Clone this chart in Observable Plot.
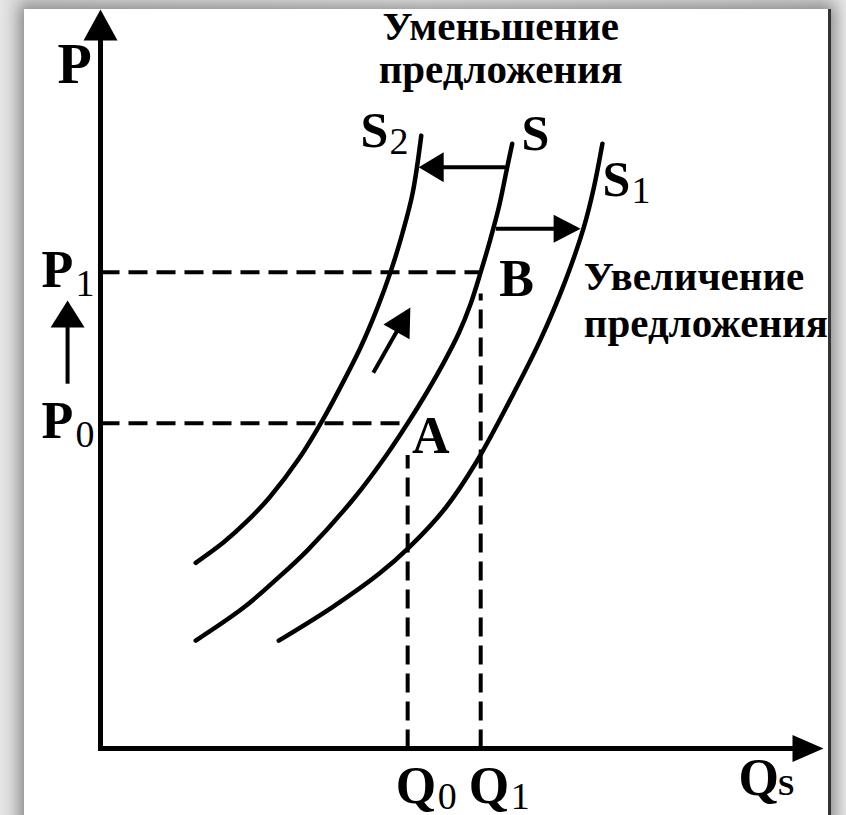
<!DOCTYPE html>
<html><head><meta charset="utf-8">
<script src="https://cdn.jsdelivr.net/npm/d3@7"></script>
<script src="https://cdn.jsdelivr.net/npm/@observablehq/plot@0.6"></script>
<style>
html,body{margin:0;padding:0;background:#e2e2e2;}
#frame{position:relative;width:846px;height:815px;overflow:hidden;background:linear-gradient(90deg,#e6e6e6,#d0d0d0 3%,#e0e0e0 50%,#d0d0d0 97%,#e6e6e6);}
#paper{position:absolute;left:24px;top:9px;width:804px;height:840px;background:#fff;border-right:3px solid #333;box-shadow:0 0 14px 4px rgba(0,0,0,0.35);}
#chart{position:absolute;left:0;top:0;}
</style></head>
<body><div id="frame"><div id="paper"></div><div id="chart"></div></div>
<script>
// Supply curves: quantity Q and price P in chart units (0..100 on both axes)
const s2Q = [13.3, 17.2, 20.4, 23.6, 27.8, 31.0, 33.5, 36.3, 38.7, 40.5, 42.2, 43.6, 44.8];
const s2P = [25.3, 28.1, 30.9, 34.2, 39.6, 44.7, 49.2, 54.6, 60.1, 64.9, 70.3, 75.7, 83.5];
const sQ  = [13.3, 20.0, 24.4, 28.9, 35.5, 40.1, 42.9, 45.5, 47.9, 50.0, 51.7, 53.1, 54.4, 55.7, 56.7, 57.5];
const sP  = [14.7, 19.2, 22.9, 27.0, 34.2, 40.2, 44.3, 48.4, 52.5, 56.5, 60.6, 64.9, 69.2, 74.0, 78.7, 82.4];
const s1Q = [24.9, 32.3, 38.9, 43.1, 48.2, 52.6, 57.7, 61.4, 64.8, 67.5, 68.9, 70.1];
const s1P = [14.7, 19.2, 23.8, 27.4, 32.8, 39.2, 48.4, 55.6, 63.4, 71.0, 76.4, 82.4];

// Equilibrium values
const P0 = 44.3, P1 = 64.9, Q0 = 42.9, Q1 = 53.1;
const priceTicks = [P0, P1];
const priceTickSubs = ["0", "1"];
const qtyTicks = [Q0, Q1];
const qtyTickSubs = ["0", "1"];

// Curve labels
const curveNames = ["S", "S", "S"];
const curveSubs = ["2", "", "1"];
const curveLabelQ = [36.3, 58.8, 70.1];
const curveLabelP = [81.9, 81.5, 75.3];

// Point labels
const pointNames = ["A", "B"];
const pointLabelQ = [43.5, 55.7];
const pointLabelP = [40.3, 61.7];

// Annotations
const notes = ["Уменьшение\nпредложения", "Увеличение\nпредложения"];
const noteQ = [55.9, 67.5];
const noteP = [90.6, 56.1];

// Shift arrows (tail -> head)
const arrowNames = ["up", "diag", "left", "right"];
const arrowQ1 = [-4.6, 38.1, 56.6, 55.2];
const arrowP1 = [49.7, 51.2, 79.2, 70.8];
const arrowQ2 = [-4.6, 43.0, 45.0, 66.5];
const arrowP2 = [60.5, 59.6, 79.2, 70.8];

// ---- build tables ----
const curves = [["S2", s2Q, s2P], ["S", sQ, sP], ["S1", s1Q, s1P]]
  .flatMap(([name, qs, ps]) => qs.map((q, i) => ({curve: name, q, p: ps[i]})));
const guides = [
  {x1: 0, y1: P1, x2: Q1, y2: P1},
  {x1: 0, y1: P0, x2: Q0, y2: P0},
  {x1: Q0, y1: 0, x2: Q0, y2: 40.0},
  {x1: Q1, y1: 0, x2: Q1, y2: 62.0}
];
const arrows = arrowNames.map((name, i) => ({name, x1: arrowQ1[i], y1: arrowP1[i], x2: arrowQ2[i], y2: arrowP2[i]}));
const curveLabels = curveNames.map((t, i) => ({t, s: curveSubs[i], q: curveLabelQ[i], p: curveLabelP[i]}));
const pointLabels = pointNames.map((t, i) => ({t, q: pointLabelQ[i], p: pointLabelP[i]}));

const heads = {
  yAxis: {L: 31, W: 34, k: 5}, xAxis: {L: 31, W: 27, k: 7},
  up: {L: 27, W: 34, k: 4}, diag: {L: 28, W: 30, k: 4},
  left: {L: 25, W: 30, k: 4}, right: {L: 27, W: 28, k: 4}
};

const font = "'Liberation Serif', 'Times New Roman', serif";
const big = {fill: "black", fontFamily: font, fontWeight: "bold", textAnchor: "start", lineAnchor: "bottom"};
const sub = {fill: "black", fontFamily: font, fontWeight: "normal", textAnchor: "start", lineAnchor: "bottom", fontSize: 38};

const chart = Plot.plot({
  width: 846, height: 815,
  marginLeft: 100, marginRight: 30, marginTop: 14, marginBottom: 67,
  x: {domain: [0, 100], axis: null},
  y: {domain: [0, 100], axis: null},
  style: {background: "transparent", overflow: "visible", fontFamily: font},
  marks: [
    // dashed guides
    Plot.link(guides, {x1: "x1", y1: "y1", x2: "x2", y2: "y2", stroke: "black", strokeWidth: 4, strokeDasharray: "19,9"}),
    // axes
    Plot.link([{a: 0}], {x1: () => 0, y1: () => -0.35, x2: () => 0, y2: () => 100, stroke: "black", strokeWidth: 5, markerEnd: "arrow", ariaDescription: "yAxis"}),
    Plot.link([{a: 0}], {x1: () => -0.35, y1: () => 0, x2: () => 100, y2: () => 0, stroke: "black", strokeWidth: 5, markerEnd: "arrow", ariaDescription: "xAxis"}),
    // supply curves
    Plot.line(curves, {x: "q", y: "p", z: "curve", curve: "catmull-rom", stroke: "black", strokeWidth: 4.5}),
    // shift arrows
    ...arrows.map(a => Plot.link([a], {x1: "x1", y1: "y1", x2: "x2", y2: "y2", stroke: "black", strokeWidth: 4, markerEnd: "arrow", ariaDescription: a.name})),
    // axis titles
    Plot.text(["P"], {x: () => -6.0, y: () => 90.6, text: d => d, fontSize: 56, ...big}),
    Plot.text(["Q"], {x: () => 89.1, y: () => -6.4, text: d => d, fontSize: 52, ...big}),
    Plot.text(["S"], {x: () => 94.6, y: () => -6.4, text: d => d, fontSize: 30, ...big}),
    // tick labels
    Plot.text(priceTicks, {x: () => 0, y: d => d, text: () => "P", dx: -59, dy: 15, fontSize: 52, ...big}),
    Plot.text(priceTicks, {x: () => 0, y: d => d, text: (d, i) => priceTickSubs[i], dx: -25, dy: 24, ...sub}),
    Plot.text(qtyTicks, {x: d => d, y: () => 0, text: () => "Q", dx: -12, dy: 54, fontSize: 52, ...big}),
    Plot.text(qtyTicks, {x: d => d, y: () => 0, text: (d, i) => qtyTickSubs[i], dx: 30, dy: 60, ...sub}),
    // curve labels
    Plot.text(curveLabels, {x: "q", y: "p", text: "t", fontSize: 50, ...big}),
    Plot.text(curveLabels, {x: "q", y: "p", text: "s", dx: 29, dy: 7, ...sub}),
    // point labels
    Plot.text(pointLabels, {x: "q", y: "p", text: "t", fontSize: 52, ...big}),
    // annotations
    Plot.text([notes[0]], {x: () => noteQ[0], y: () => noteP[0], text: d => d, fontSize: 41, lineHeight: 1.05, ...big, textAnchor: "middle"}),
    Plot.text([notes[1]], {x: () => noteQ[1], y: () => noteP[1], text: d => d, fontSize: 41, lineHeight: 1.15, ...big})
  ]
});

// filled triangular arrowheads
d3.select(chart).selectAll("g[aria-description]").each(function () {
  const h = heads[this.getAttribute("aria-description")];
  if (!h) return;
  d3.select(this).selectAll("marker").each(function () {
    const m = d3.select(this);
    m.attr("viewBox", `${h.k - h.L - 1} ${-h.W / 2 - 1} ${h.L + 2} ${h.W + 2}`)
      .attr("markerWidth", h.L + 2).attr("markerHeight", h.W + 2)
      .attr("markerUnits", "userSpaceOnUse").attr("refX", 0).attr("refY", 0)
      .attr("orient", "auto").attr("fill", "black").attr("stroke", "none");
    m.selectAll("*").remove();
    m.append("path").attr("d", `M${h.k - h.L},${-h.W / 2}L${h.k},0L${h.k - h.L},${h.W / 2}Z`);
  });
});

document.getElementById("chart").appendChild(chart);
</script></body></html>
